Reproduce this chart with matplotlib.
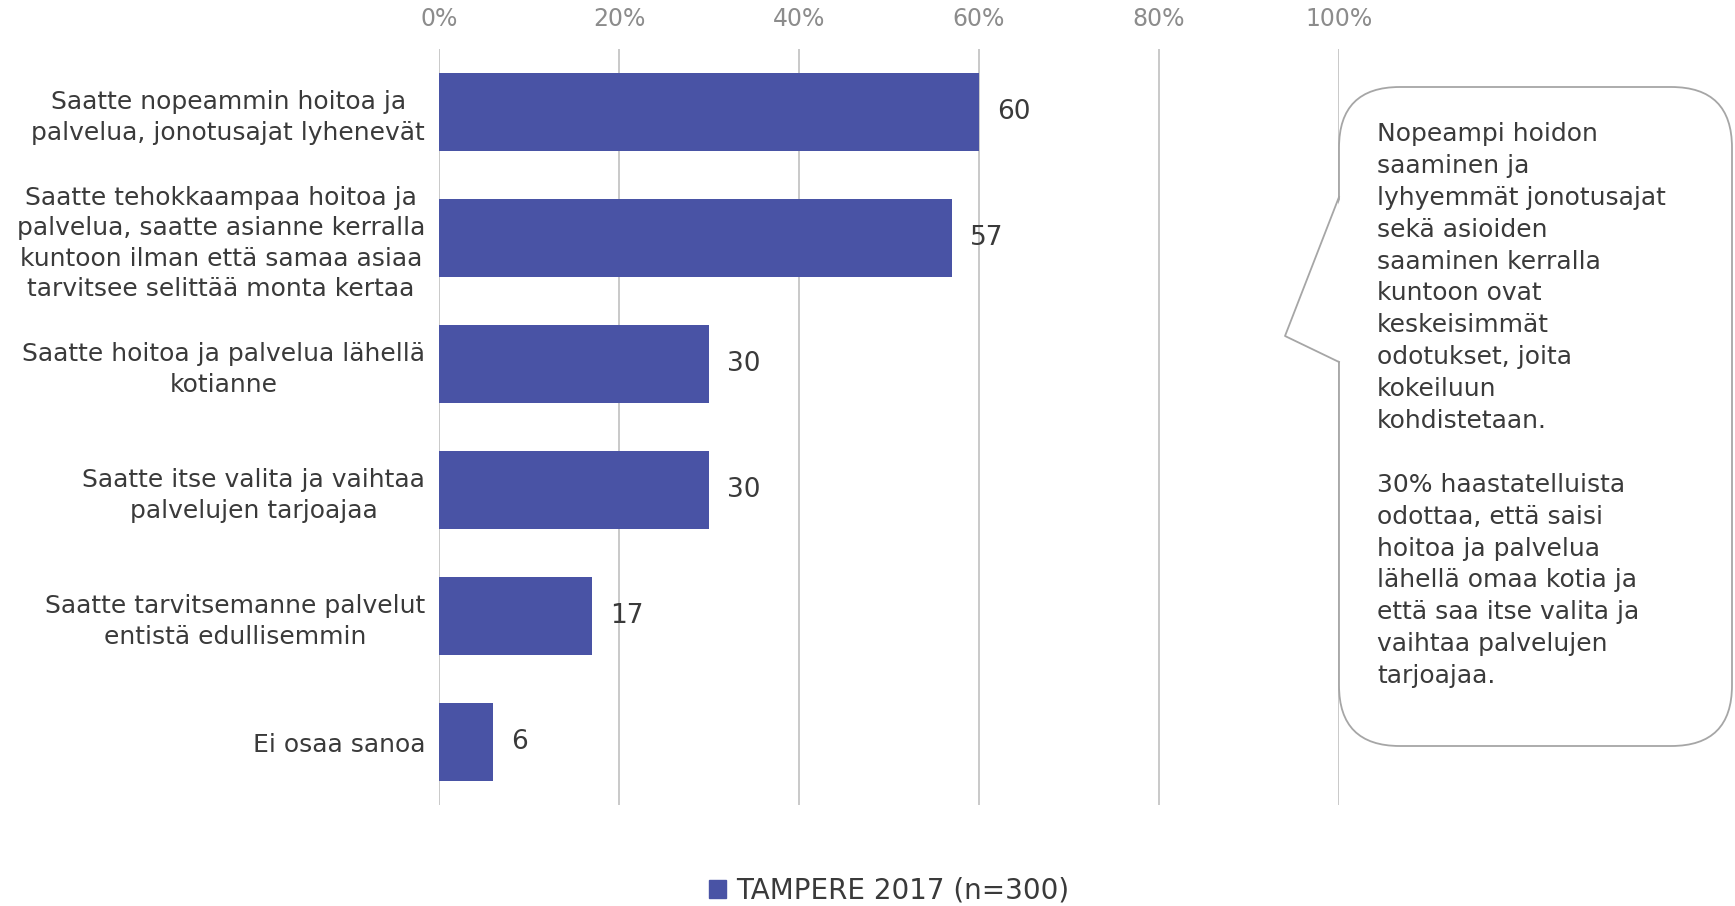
import matplotlib.pyplot as plt
from matplotlib.patches import FancyBboxPatch, Polygon, Patch
from matplotlib.lines import Line2D

# Data
categories = [
    'Saatte nopeammin hoitoa ja\npalvelua, jonotusajat lyhenevät',
    'Saatte tehokkaampaa hoitoa ja\npalvelua, saatte asianne kerralla\nkuntoon ilman että samaa asiaa\ntarvitsee selittää monta kertaa',
    'Saatte hoitoa ja palvelua lähellä\nkotianne',
    'Saatte itse valita ja vaihtaa\npalvelujen tarjoajaa',
    'Saatte tarvitsemanne palvelut\nentistä edullisemmin',
    'Ei osaa sanoa',
]
values = [60, 57, 30, 30, 17, 6]
x_ticks = [0, 20, 40, 60, 80, 100]
x_tick_labels = ['0%', '20%', '40%', '60%', '80%', '100%']
series_name = 'TAMPERE 2017 (n=300)'
callout_text = ('Nopeampi hoidon\nsaaminen ja\nlyhyemmät jonotusajat\nsekä asioiden\n'
                'saaminen kerralla\nkuntoon ovat\nkeskeisimmät\nodotukset, joita\n'
                'kokeiluun\nkohdistetaan.\n\n30% haastatelluista\nodottaa, että saisi\n'
                'hoitoa ja palvelua\nlähellä omaa kotia ja\nettä saa itse valita ja\n'
                'vaihtaa palvelujen\ntarjoajaa.')

bar_color = '#4953A5'
text_color = '#3A3A3A'
grid_color = '#C0C0C0'

W, H = 1735, 906
fig = plt.figure(figsize=(W / 100, H / 100), dpi=100)
ax = fig.add_axes([439 / W, 1 - 805 / H, 900 / W, 756 / H])

y_pos = list(range(len(categories)))
ax.barh(y_pos, values, height=0.62, color=bar_color, zorder=2)
ax.set_ylim(len(categories) - 0.5, -0.5)
ax.set_xlim(0, 100)

for y, v in zip(y_pos, values):
    ax.annotate(str(v), (v, y), xytext=(13, 0), textcoords='offset points',
                va='center', ha='left', fontsize=19, color=text_color)

ax.set_yticks(y_pos)
ax.set_yticklabels(categories, fontsize=18, color=text_color,
                   multialignment='center', linespacing=1.33)
ax.set_xticks(x_ticks)
ax.set_xticklabels(x_tick_labels, fontsize=17, color='#8C8C8C')
ax.xaxis.tick_top()
ax.tick_params(axis='both', length=0)
ax.tick_params(axis='x', pad=13)
ax.tick_params(axis='y', pad=10)
ax.grid(axis='x', color=grid_color, linewidth=1.2, zorder=0)
for s in ax.spines.values():
    s.set_visible(False)

# Callout bubble (figure pixel coords converted to fractions)
def fx(px):
    return px / W

def fy(py):
    return 1 - py / H

edge = '#A6A6A6'
box = FancyBboxPatch((fx(1339), fy(746)), fx(1732) - fx(1339), fy(87) - fy(746),
                     boxstyle='round,pad=0,rounding_size=0.035', mutation_aspect=W / H,
                     transform=fig.transFigure, facecolor='white', edgecolor=edge,
                     linewidth=1.3, zorder=3)
fig.patches.append(box)
pointer = Polygon([(fx(1341), fy(197)), (fx(1285), fy(336)), (fx(1341), fy(362))],
                  closed=True, transform=fig.transFigure, facecolor='white',
                  edgecolor='none', zorder=4)
fig.patches.append(pointer)
fig.lines.append(Line2D([fx(1339), fx(1285), fx(1339)], [fy(197), fy(336), fy(362)],
                        transform=fig.transFigure, color=edge, linewidth=1.3, zorder=5))
fig.text(fx(1377), fy(122), callout_text, fontsize=18, color=text_color,
         ha='left', va='top', linespacing=1.415, zorder=6)

fig.legend(handles=[Patch(color=bar_color, label=series_name)], loc='center',
           bbox_to_anchor=(fx(889), fy(891)), frameon=False, fontsize=20,
           handlelength=0.6, handleheight=0.6, handletextpad=0.35,
           labelcolor=text_color)

fig.savefig('out.png', dpi=100)
